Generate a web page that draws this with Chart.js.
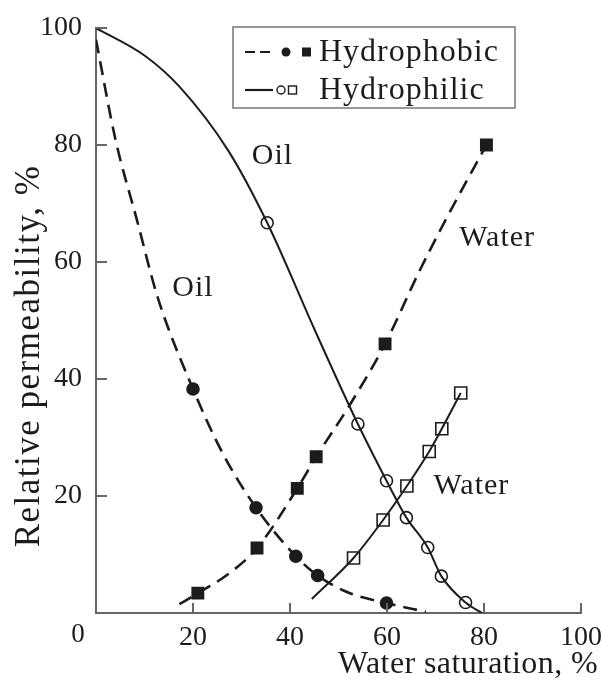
<!DOCTYPE html>
<html>
<head>
<meta charset="utf-8">
<script src="https://cdn.jsdelivr.net/npm/chart.js@4.4.0/dist/chart.umd.min.js"></script>
<style>
  html, body { margin: 0; padding: 0; background: #fff; }
  #wrap { width: 602px; height: 688px; }
</style>
</head>
<body>
<div id="wrap"><canvas id="chart" width="602" height="688"></canvas></div>
<script>
// relative permeability vs water saturation, hydrophobic (dashed) / hydrophilic (solid)
var ticks = [20, 40, 60, 80, 100];

// hydrophobic oil - dashed curve trace and filled circles
var phobOilX = [0, 4, 8.5, 12.7, 20, 26, 33, 41.2, 45.7, 52, 59.9, 68];
var phobOilY = [98, 81, 67, 54, 38.3, 27.5, 18, 9.7, 6.4, 3.5, 1.7, 0.2];
var phobOilPtX = [20, 33, 41.2, 45.7, 59.9];
var phobOilPtY = [38.3, 18, 9.7, 6.4, 1.7];

// hydrophobic water - dashed curve trace and filled squares
var phobWatX = [17.2, 21, 27, 33.2, 41.5, 45.4, 52.2, 59.6, 66.6, 71.9, 80.5];
var phobWatY = [1.5, 3.4, 6.5, 11.1, 21.3, 26.7, 35.4, 46, 58.3, 66.9, 80];
var phobWatPtX = [21, 33.2, 41.5, 45.4, 59.6, 80.5];
var phobWatPtY = [3.4, 11.1, 21.3, 26.7, 46, 80];

// hydrophilic oil - solid curve and open circles
var philOilX = [0, 10, 17.3, 27.3, 35.3, 45.2, 54, 59.9, 64, 68.4, 71.2, 76.2, 79.6];
var philOilY = [100, 95.3, 89.9, 79, 66.7, 48.2, 32.3, 22.6, 16.3, 11.2, 6.3, 1.8, 0];
var philOilPtX = [35.3, 54, 59.9, 64, 68.4, 71.2, 76.2];
var philOilPtY = [66.7, 32.3, 22.6, 16.3, 11.2, 6.3, 1.8];

// hydrophilic water - solid curve and open squares
var philWatX = [44.5, 53.1, 59.2, 64.1, 68.7, 71.3, 75.2];
var philWatY = [2.4, 9.4, 15.9, 21.7, 27.6, 31.5, 37.6];
var philWatPtX = [53.1, 59.2, 64.1, 68.7, 71.3, 75.2];
var philWatPtY = [9.4, 15.9, 21.7, 27.6, 31.5, 37.6];

// curve labels
var curveLabels = ['Oil', 'Oil', 'Water', 'Water'];
var curveLabelX = [36.4, 20, 82.7, 77.4];
var curveLabelY = [78.1, 55.5, 64, 21.7];

var legendNames = ['Hydrophobic', 'Hydrophilic'];
var xTitle = 'Water saturation, %';
var yTitle = 'Relative permeability, %';

var FONT = "'Liberation Serif', 'Times New Roman', serif";
var INK = '#1c1c1c';

function pts(xs, ys) {
  return xs.map(function (x, i) { return { x: x, y: ys[i] }; });
}

function curve(xs, ys, dashed) {
  return {
    data: pts(xs, ys),
    showLine: true,
    borderColor: INK,
    borderWidth: dashed ? 2.6 : 2,
    borderDash: dashed ? [14, 8] : [],
    cubicInterpolationMode: 'monotone',
    pointRadius: 0,
    fill: false
  };
}

function markers(xs, ys, style, filled, r) {
  return {
    data: pts(xs, ys),
    showLine: false,
    pointStyle: style,
    pointRadius: r,
    pointBorderWidth: 1.6,
    pointBorderColor: INK,
    pointBackgroundColor: filled ? INK : '#fff'
  };
}

var decor = {
  id: 'decor',
  afterDraw: function (chart) {
    var ctx = chart.ctx;
    var xs = chart.scales.x, ys = chart.scales.y;
    var a = chart.chartArea;
    ctx.save();
    // inward tick marks
    ctx.strokeStyle = '#666';
    ctx.lineWidth = 2;
    ticks.forEach(function (t) {
      var px = xs.getPixelForValue(t);
      ctx.beginPath(); ctx.moveTo(px, a.bottom); ctx.lineTo(px, a.bottom - 10); ctx.stroke();
      var py = ys.getPixelForValue(t);
      ctx.beginPath(); ctx.moveTo(a.left, py); ctx.lineTo(a.left + 11, py); ctx.stroke();
    });

    ctx.fillStyle = INK;
    // shared origin label
    ctx.font = '27px ' + FONT;
    ctx.textAlign = 'center';
    ctx.textBaseline = 'middle';
    ctx.fillText('0', xs.getPixelForValue(0) - 18, a.bottom + 22);

    // curve labels
    ctx.font = '30px ' + FONT;
    ctx.letterSpacing = '1px';
    curveLabels.forEach(function (s, i) {
      ctx.fillText(s, xs.getPixelForValue(curveLabelX[i]), ys.getPixelForValue(curveLabelY[i]));
    });

    // axis titles
    ctx.font = '32px ' + FONT;
    ctx.letterSpacing = '0.4px';
    ctx.textAlign = 'right';
    ctx.fillText(xTitle, 598, 665);
    ctx.save();
    ctx.translate(30, 356);
    ctx.rotate(-Math.PI / 2);
    ctx.textAlign = 'center';
    ctx.font = '35px ' + FONT;
    ctx.letterSpacing = '1.5px';
    ctx.fillText(yTitle, 0, 0);
    ctx.restore();

    // legend box
    ctx.letterSpacing = '0px';
    ctx.fillStyle = '#fff';
    ctx.fillRect(233, 27, 282, 81);
    ctx.strokeStyle = '#777';
    ctx.lineWidth = 1.5;
    ctx.strokeRect(233, 27, 282, 81);
    ctx.strokeStyle = INK;
    ctx.fillStyle = INK;
    ctx.lineWidth = 2.2;
    // row 1: dashed + filled circle + filled square
    ctx.beginPath(); ctx.moveTo(245, 52); ctx.lineTo(255, 52); ctx.moveTo(260, 52); ctx.lineTo(270, 52); ctx.stroke();
    ctx.beginPath(); ctx.arc(286, 52, 4.5, 0, Math.PI * 2); ctx.fill();
    ctx.fillRect(302, 47.5, 9, 9);
    // row 2: solid + open circle + open square
    ctx.beginPath(); ctx.moveTo(245, 90); ctx.lineTo(273, 90); ctx.stroke();
    ctx.lineWidth = 1.4;
    ctx.beginPath(); ctx.arc(281, 90, 4, 0, Math.PI * 2); ctx.stroke();
    ctx.strokeRect(288.5, 86, 8, 8);
    ctx.font = '32px ' + FONT;
    ctx.letterSpacing = '1px';
    ctx.textAlign = 'left';
    ctx.textBaseline = 'middle';
    ctx.fillText(legendNames[0], 319, 53);
    ctx.fillText(legendNames[1], 319, 91);
    ctx.restore();
  }
};

new Chart(document.getElementById('chart'), {
  type: 'scatter',
  data: {
    datasets: [
      curve(phobOilX, phobOilY, true),
      curve(phobWatX, phobWatY, true),
      curve(philOilX, philOilY, false),
      curve(philWatX, philWatY, false),
      markers(phobOilPtX, phobOilPtY, 'circle', true, 6),
      markers(phobWatPtX, phobWatPtY, 'rect', true, 8),
      markers(philOilPtX, philOilPtY, 'circle', false, 6),
      markers(philWatPtX, philWatPtY, 'rect', false, 8.5)
    ]
  },
  options: {
    responsive: false,
    animation: false,
    layout: { padding: { left: 0, right: 20, top: 28, bottom: 0 } },
    plugins: { legend: { display: false }, tooltip: { enabled: false } },
    scales: {
      x: {
        type: 'linear', min: 0, max: 100,
        grid: { display: false },
        border: { display: true, color: '#666', width: 2 },
        ticks: {
          stepSize: 20, padding: 0, color: INK,
          font: { family: FONT, size: 28 },
          callback: function (v) { return v === 0 ? '' : v; }
        },
        afterFit: function (s) { s.height = 75; }
      },
      y: {
        type: 'linear', min: 0, max: 100,
        grid: { display: false },
        border: { display: true, color: '#666', width: 2 },
        ticks: {
          stepSize: 20, padding: 6, color: INK,
          font: { family: FONT, size: 28 },
          callback: function (v) { return v === 0 ? '' : v; }
        },
        afterFit: function (s) { s.width = 96; }
      }
    }
  },
  plugins: [decor]
});
</script>
</body>
</html>
